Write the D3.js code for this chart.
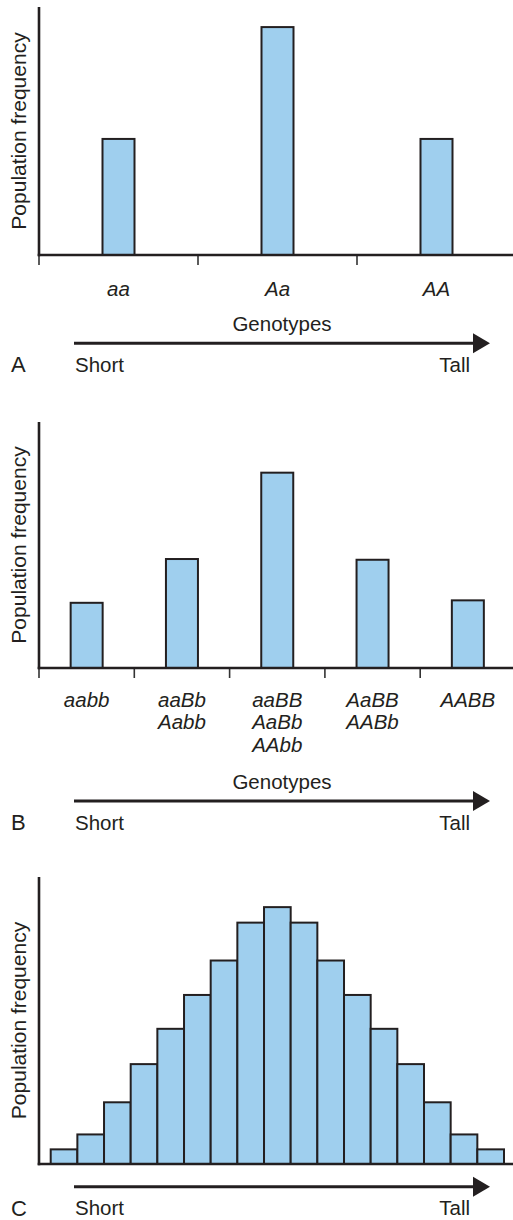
<!DOCTYPE html>
<html>
<head>
<meta charset="utf-8">
<script src="https://cdn.jsdelivr.net/npm/d3@7"></script>
<style>
  html, body { margin: 0; padding: 0; background: #fff; }
  svg { display: block; }
  text { font-family: "Liberation Sans", Arial, Helvetica, sans-serif; fill: #231f20; }
</style>
</head>
<body>
<script>
// ---------------- DATA ----------------
const genotypesA = ["aa", "Aa", "AA"];
const freqA = [46.8, 91.9, 46.8];

const genotypesB = [["aabb"], ["aaBb", "Aabb"], ["aaBB", "AaBb", "AAbb"], ["AaBB", "AABb"], ["AABB"]];
const freqB = [26.5, 44.3, 79.4, 44.0, 27.5];

const classesC = ["1","2","3","4","5","6","7","8","9","10","11","12","13","14","15","16","17"];
const freqC = [5.1, 10.3, 21.5, 34.8, 47.1, 58.9, 70.9, 84.1, 89.5, 84.1, 70.9, 58.9, 47.1, 34.8, 21.5, 10.3, 5.1];

const panelLetters = ["A", "B", "C"];
const yTitle = "Population frequency";
const xTitle = "Genotypes";
const arrowLeft = "Short";
const arrowRight = "Tall";

// ---------------- LAYOUT ----------------
const W = 513, H = 1220;
const ink = "#231f20";
const barFill = "#9fcfee";
const axisX = 39, rightEdge = 513;
const fs = 20.5;

const svg = d3.select("body").append("svg").attr("width", W).attr("height", H);

function hText(g, str, x, y, size, anchor, italic) {
  return g.append("text")
    .attr("x", x).attr("y", y)
    .attr("text-anchor", anchor)
    .style("font-size", size + "px")
    .style("font-style", italic ? "italic" : "normal")
    .text(str);
}

function panel(cfg) {
  const g = svg.append("g");
  const y = d3.scaleLinear().domain([0, 100]).range([cfg.base, cfg.top]);

  if (cfg.contiguous) {
    const x = d3.scaleBand().domain(cfg.cats).range(cfg.barRange).padding(0);
    g.selectAll("rect.bar").data(cfg.values).join("rect")
      .attr("class", "bar")
      .attr("x", (d, i) => x(cfg.cats[i]))
      .attr("width", x.bandwidth())
      .attr("y", d => y(d))
      .attr("height", d => cfg.base - y(d))
      .attr("fill", barFill).attr("stroke", ink).attr("stroke-width", 2);
  } else {
    const x = d3.scaleBand().domain(cfg.cats.map((c, i) => i)).range([axisX, axisX + cfg.step * cfg.cats.length]).padding(0);
    const bw = 32;
    g.selectAll("rect.bar").data(cfg.values).join("rect")
      .attr("class", "bar")
      .attr("x", (d, i) => x(i) + x.bandwidth() / 2 - bw / 2)
      .attr("width", bw)
      .attr("y", d => y(d))
      .attr("height", d => cfg.base - y(d))
      .attr("fill", barFill).attr("stroke", ink).attr("stroke-width", 2);
    g.selectAll("line.tick").data(cfg.cats).join("line")
      .attr("class", "tick")
      .attr("x1", (d, i) => x(i)).attr("x2", (d, i) => x(i))
      .attr("y1", cfg.base).attr("y2", cfg.base + 10)
      .attr("stroke", "#333").attr("stroke-width", 1.6);
    cfg.cats.forEach((c, i) => {
      const lines = Array.isArray(c) ? c : [c];
      lines.forEach((s, j) => {
        hText(g, s, x(i) + x.bandwidth() / 2, cfg.labelY + j * 22.5, fs, "middle", true);
      });
    });
  }

  // axes
  g.append("line").attr("x1", axisX).attr("x2", axisX).attr("y1", cfg.top).attr("y2", cfg.base + 1.2)
    .attr("stroke", ink).attr("stroke-width", 2.6);
  g.append("line").attr("x1", axisX - 1.3).attr("x2", rightEdge).attr("y1", cfg.base).attr("y2", cfg.base)
    .attr("stroke", ink).attr("stroke-width", 2.6);

  // y title
  g.append("text")
    .attr("transform", `translate(26,${(cfg.top + cfg.base) / 2}) rotate(-90)`)
    .attr("text-anchor", "middle")
    .style("font-size", "21px")
    .text(yTitle);

  // arrow
  g.append("line").attr("x1", 74).attr("x2", 476).attr("y1", cfg.arrowY).attr("y2", cfg.arrowY)
    .attr("stroke", ink).attr("stroke-width", 3);
  g.append("path")
    .attr("d", `M473,${cfg.arrowY - 10}L490,${cfg.arrowY}L473,${cfg.arrowY + 10}Z`)
    .attr("fill", ink);

  if (cfg.showXTitle) hText(g, xTitle, 282, cfg.arrowY - 12, fs, "middle", false);
  hText(g, arrowLeft, 75, cfg.arrowY + 28.5, fs, "start", false);
  hText(g, arrowRight, 470, cfg.arrowY + 28.5, fs, "end", false);
  hText(g, cfg.letter, 11, cfg.arrowY + 29, 22, "start", false);
}

panel({ letter: panelLetters[0], cats: genotypesA, values: freqA, top: 7, base: 255, step: 159,
        labelY: 296, arrowY: 343.3, showXTitle: true });
panel({ letter: panelLetters[1], cats: genotypesB, values: freqB, top: 422, base: 668, step: 95.3,
        labelY: 706.5, arrowY: 801, showXTitle: true });
panel({ letter: panelLetters[2], cats: classesC, values: freqC, top: 877, base: 1164, contiguous: true,
        barRange: [50.7, 504], arrowY: 1186.7, showXTitle: false });
</script>
</body>
</html>
